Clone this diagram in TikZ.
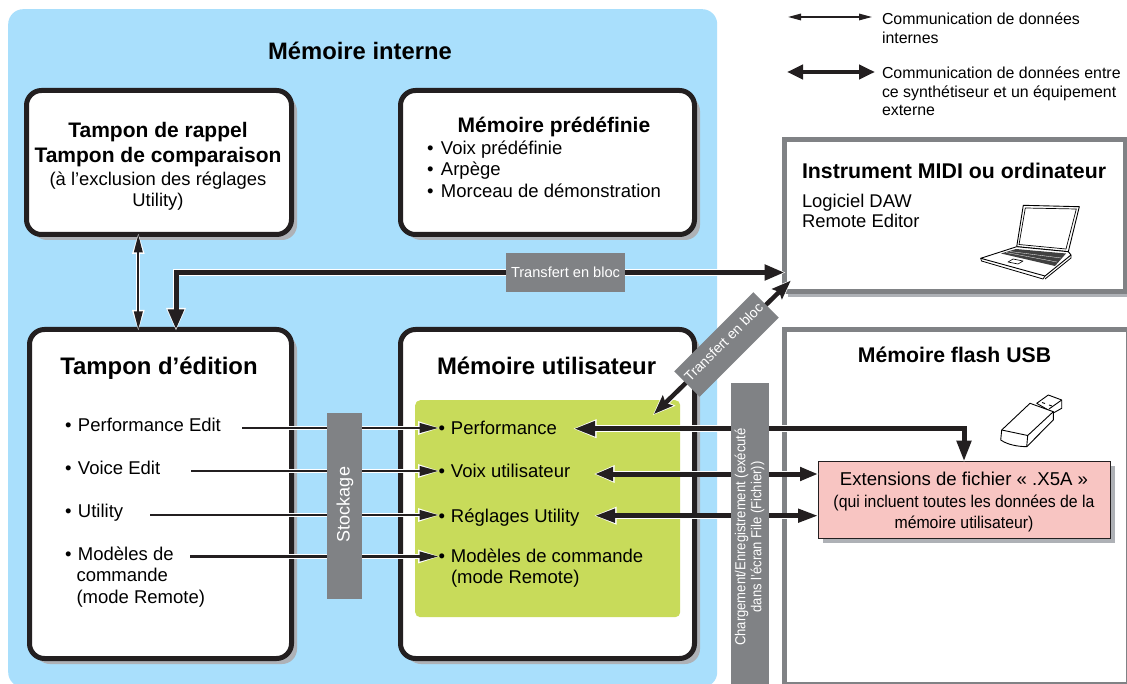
\documentclass[tikz,border=0pt]{standalone}
\usepackage{fontspec}
\setmainfont{Liberation Sans}
\newfontfamily\condA[FakeStretch=0.9]{Liberation Sans}
\newfontfamily\condB[FakeStretch=0.93]{Liberation Sans}
\usetikzlibrary{arrows.meta,shadows}
\definecolor{panel}{RGB}{169,223,252}
\definecolor{ink}{RGB}{35,31,32}
\definecolor{steel}{RGB}{128,130,133}
\definecolor{shadowc}{RGB}{174,177,182}
\definecolor{lime}{RGB}{200,219,90}
\definecolor{rose}{RGB}{248,197,194}
\newcommand\fsz[1]{\fontsize{#1pt}{#1pt}\selectfont}
\def\tipinset{0}
% line width, tip length, tip width, ends, path
\newcommand\conn[5]{%
  \pgfmathsetmacro\hLW{#1+1.8}\pgfmathsetmacro\hL{#2+3}\pgfmathsetmacro\hW{#3+3}%
  \draw[white,line width=\hLW pt,>={Stealth[length=\hL pt,width=\hW pt,inset=\tipinset pt]},shorten >=-1.5pt,shorten <=-1.5pt,#4] #5;
  \draw[ink,line width=#1pt,>={Stealth[length=#2pt,width=#3pt,inset=\tipinset pt]},#4] #5;
}
\tikzset{
  membox/.style={draw=ink,line width=5pt,fill=white,rounded corners=15pt,inner sep=0pt,outer sep=0pt,
    general shadow={fill=shadowc,shadow xshift=5.5pt,shadow yshift=-5.5pt}},
  extbox/.style={draw=steel,line width=5pt,fill=white,inner sep=0pt,outer sep=0pt},
  band/.style={fill=steel,inner sep=0pt,outer sep=0pt},
  bandtext/.style={text=white,align=center,inner sep=0pt},
  lbl/.style={inner sep=0pt,outer sep=0pt,anchor=base west,text=black,yshift=-0.7pt},
  ctr/.style={inner sep=0pt,outer sep=0pt,anchor=base,text=black,yshift=-0.7pt},
  icon/.style={draw=black,line width=0.9pt,fill=white,line join=round},
}
\begin{document}
\begin{tikzpicture}[x=1pt,y=-1pt]
\useasboundingbox (0,0) rectangle (1127,684);
\clip (0,0) rectangle (1127,684);
\fill[white] (0,0) rectangle (1127,684);
\node[fill=panel,rounded corners=15pt,inner sep=0pt,minimum width=709pt,minimum height=678pt,anchor=north west] (interne) at (8,9) {};
% memory boxes
\node[membox,minimum width=265pt,minimum height=144pt,anchor=north west] (rappel) at (26.5,90.5) {};
\node[membox,minimum width=294pt,minimum height=144pt,anchor=north west] (predef) at (400.5,90.5) {};
\node[membox,minimum width=262pt,minimum height=329pt,anchor=north west] (edition) at (29.5,329.5) {};
\node[membox,minimum width=294pt,minimum height=329pt,anchor=north west] (user) at (400.5,329.5) {};
\node[fill=lime,rounded corners=5pt,inner sep=0pt,minimum width=265pt,minimum height=217pt,anchor=north west] (vert) at (415,400) {};
% external boxes
\node[extbox,general shadow={fill=shadowc,shadow xshift=3pt,shadow yshift=-5pt},minimum width=341pt,minimum height=152pt,anchor=north west] (midi) at (784.5,140) {};
\node[extbox,minimum width=344pt,minimum height=355pt,anchor=north west] (usb) at (784.5,329.5) {};
\node[draw=ink,line width=1pt,fill=rose,inner sep=0pt,outer sep=0pt,minimum width=292pt,minimum height=77pt,anchor=north west,
  general shadow={fill=shadowc,shadow xshift=4.5pt,shadow yshift=-4.5pt}] (pink) at (818,461.5) {};
% labels for the green area (needed by connectors)
\node[lbl,font=\fsz{18.5}] (gperf) at (438.5,433.5) {•\hspace{6pt}Performance};
\node[lbl,font=\fsz{18.5}] (gvoix) at (438.5,476.5) {•\hspace{6pt}Voix utilisateur};
\node[lbl,font=\fsz{18.5}] (gregl) at (438.5,521.5) {•\hspace{6pt}Réglages Utility};
\node[lbl,font=\fsz{18.5}] (gmod) at (438.5,561.5) {•\hspace{6pt}Modèles de commande};
\node[lbl,font=\fsz{18.5}] (gmod2) at (451,583) {(mode Remote)};
% connector ends
\coordinate (tb) at (176,272.5);
\coordinate (rc) at (138.3,280);
\coordinate (d1) at (790.7,280.7);
\coordinate (d2) at (654,414);
\coordinate (s1) at (242,428);
\coordinate (s2) at (191,471);
\coordinate (s3) at (150,515);
\coordinate (s4) at (190,556.5);
\coordinate (r1) at (574,428.7);
\coordinate (r1c) at (964,428.7);
\coordinate (r2) at (595,474);
\coordinate (r3) at (595,515.7);
% connectors
\conn{2}{18}{8.5}{<->}{(rc |- rappel.south) -- (rc |- edition.north)}
\conn{5}{20}{15}{<->}{(tb -| midi.west) -- (tb) -- (tb |- edition.north)}
\conn{2.5}{19}{9.5}{->}{(s1) -- (s1 -| gperf.west)}
\conn{2.5}{19}{9.5}{->}{(s2) -- (s2 -| gvoix.west)}
\conn{2.5}{19}{9.5}{->}{(s3) -- (s3 -| gregl.west)}
\conn{2.5}{19}{9.5}{->}{(s4) -- (s4 -| gmod.west)}
\conn{5}{21}{14}{<->}{(r1) -- (r1c) -- (r1c |- pink.north)}
\conn{5}{18}{13}{<->}{(r2) -- (r2 -| pink.west)}
\conn{4.5}{20}{13}{<->}{(r3) -- (r3 -| pink.west)}
{\def\tipinset{3}\conn{4.5}{19}{14}{<->}{(d1) -- (d2)}}
% gray bands
\node[band,minimum width=119pt,minimum height=39pt] (tb1) at (565.5,272.5) {};
\node[bandtext,font=\fsz{14.6}] at (tb1) {Transfert en bloc};
\node[band,minimum width=112pt,minimum height=36pt,rotate=45] (tb2) at (726.5,344.5) {};
\node[bandtext,font=\fsz{14},rotate=45] at (723.5,342) {Transfert en bloc};
\node[band,minimum width=35pt,minimum height=186pt] (stock) at (344.5,506) {};
\node[bandtext,font=\fsz{18},rotate=90] at (345,504.5) {Stockage};
\node[band,minimum width=38pt,minimum height=301pt] (charge) at (750,533.5) {};
\node[bandtext,rotate=90,align=center,font=\condA\fontsize{14.5pt}{16pt}\selectfont] at (749.5,537) {Chargement/Enregistrement (exécuté\\dans l’écran File (Fichier))};
% titles and texts
\node[ctr,font=\bfseries\fsz{23.8}] (t0) at (360,58.5) {Mémoire interne};
\node[ctr,font=\bfseries\fsz{21}] (t1) at (158,137) {Tampon de rappel};
\node[ctr,font=\bfseries\fsz{21}] (t2) at (158,162) {Tampon de comparaison};
\node[ctr,font=\fsz{18.4}] (t3) at (158,184.5) {(à l’exclusion des réglages};
\node[ctr,font=\fsz{18.4}] (t4) at (158,205.5) {Utility)};
\node[ctr,font=\bfseries\fsz{21}] (t5) at (554,131.5) {Mémoire prédéfinie};
\node[lbl,font=\fsz{18.5}] (t6) at (427,153.5) {•\hspace{7.5pt}Voix prédéfinie};
\node[lbl,font=\fsz{18.5}] (t7) at (427,174.5) {•\hspace{7.5pt}Arpège};
\node[lbl,font=\fsz{18.5}] (t8) at (427,196.5) {•\hspace{7.5pt}Morceau de démonstration};
\node[ctr,font=\bfseries\fsz{23.9}] (t9) at (159,373.5) {Tampon d’édition};
\node[lbl,font=\fsz{18.5}] (e1) at (65,431) {•\hspace{6.5pt}Performance Edit};
\node[lbl,font=\fsz{18.5}] (e2) at (65,474) {•\hspace{6.5pt}Voice Edit};
\node[lbl,font=\fsz{18.5}] (e3) at (65,517) {•\hspace{6.5pt}Utility};
\node[lbl,font=\fsz{18.5}] (e4) at (65,560) {•\hspace{6.5pt}Modèles de};
\node[lbl,font=\fsz{18.5}] (e5) at (76.5,581) {commande};
\node[lbl,font=\fsz{18.5}] (e6) at (76.5,603) {(mode Remote)};
\node[lbl,font=\bfseries\fsz{23.9}] (u0) at (437,373.5) {Mémoire utilisateur};
\node[lbl,font=\bfseries\fsz{21.3}] (m0) at (802,178) {Instrument MIDI ou ordinateur};
\node[lbl,font=\fsz{18.4}] (m1) at (802,207) {Logiciel DAW};
\node[lbl,font=\fsz{18.4}] (m2) at (802,227) {Remote Editor};
\node[ctr,font=\bfseries\fsz{21.2}] (f0) at (954.5,362) {Mémoire flash USB};
\node[ctr,font=\fsz{18.6}] (p1) at (964,485) {Extensions de fichier « .X5A »};
\node[ctr,font=\condB\fsz{17}] (p2) at (964,507) {(qui incluent toutes les données de la};
\node[ctr,font=\condB\fsz{17}] (p3) at (964,528) {mémoire utilisateur)};
% legend
\coordinate (l1a) at (788,17);
\coordinate (l1b) at (872,17);
\coordinate (l2a) at (787,72);
\coordinate (l2b) at (875,72);
\draw[ink,line width=1.5pt,>={Stealth[length=13pt,width=6.5pt,inset=0pt]},<->] (l1a) -- (l1b);
\draw[ink,line width=4pt,>={Stealth[length=16pt,width=14pt,inset=0pt]},<->] (l2a) -- (l2b);
\node[lbl,font=\fsz{15.9}] (c1) at (882,24) {Communication de données};
\node[lbl,font=\fsz{15.9}] (c2) at (882,42.5) {internes};
\node[lbl,font=\fsz{15.9}] (c3) at (882,78) {Communication de données entre};
\node[lbl,font=\fsz{15.9}] (c4) at (882,96.5) {ce synthétiseur et un équipement};
\node[lbl,font=\fsz{15.9}] (c5) at (882,115) {externe};
% laptop
\draw[icon] (1023.3,205.3) -- (1079.3,206.7) -- (1068.3,251.7) -- (1016.7,246.7) -- cycle;
\draw[draw=black,line width=0.7pt] (1025.3,208) -- (1076.3,209) -- (1066,249) -- (1019,244.5) -- cycle;
\draw[icon] (1016.7,246.7) -- (980.7,258.3) -- (1045,276) -- (1071,255) -- (1068.3,251.7) -- cycle;
\draw[draw=black,line width=0.8pt] (980.7,258.3) -- (981.5,261) -- (1043,279) -- (1045,276);
\draw[draw=black,line width=0.8pt] (1045,279) -- (1071,258) -- (1071,255);
\fill[black!75] (1016,249) -- (1066,253.5) -- (1055,266) -- (1001,253.5) -- cycle;
\draw[white,line width=0.3pt] (1010,251.5) -- (1061,258) (1006,252.5) -- (1057,262);
\draw[icon,line width=0.6pt] (1013,259) -- (1023,261) -- (1018,264) -- (1008,262) -- cycle;
% usb stick
\draw[icon] (1036.7,403.3) -- (1048.3,395) -- (1061.7,400) -- (1061.7,408.3) -- (1053.3,413) -- cycle;
\draw[draw=black,line width=0.9pt] (1049,409) -- (1061.7,400);
\draw[draw=black,line width=0.9pt] (1042,402.5) -- (1045,403.5) (1049,405) -- (1052,406);
\draw[icon] (1001.7,430) -- (1030,403.3) -- (1053.3,411.7) -- (1053.3,420) -- (1026.7,446.7) .. controls (1018,446.5) and (1008,445) .. (1000.7,440) -- cycle;
\draw[draw=black,line width=0.9pt] (1001.7,430) -- (1027.7,435.5) -- (1053.3,411.7) (1027.7,435.5) -- (1026.7,446.7);
\end{tikzpicture}
\end{document}
